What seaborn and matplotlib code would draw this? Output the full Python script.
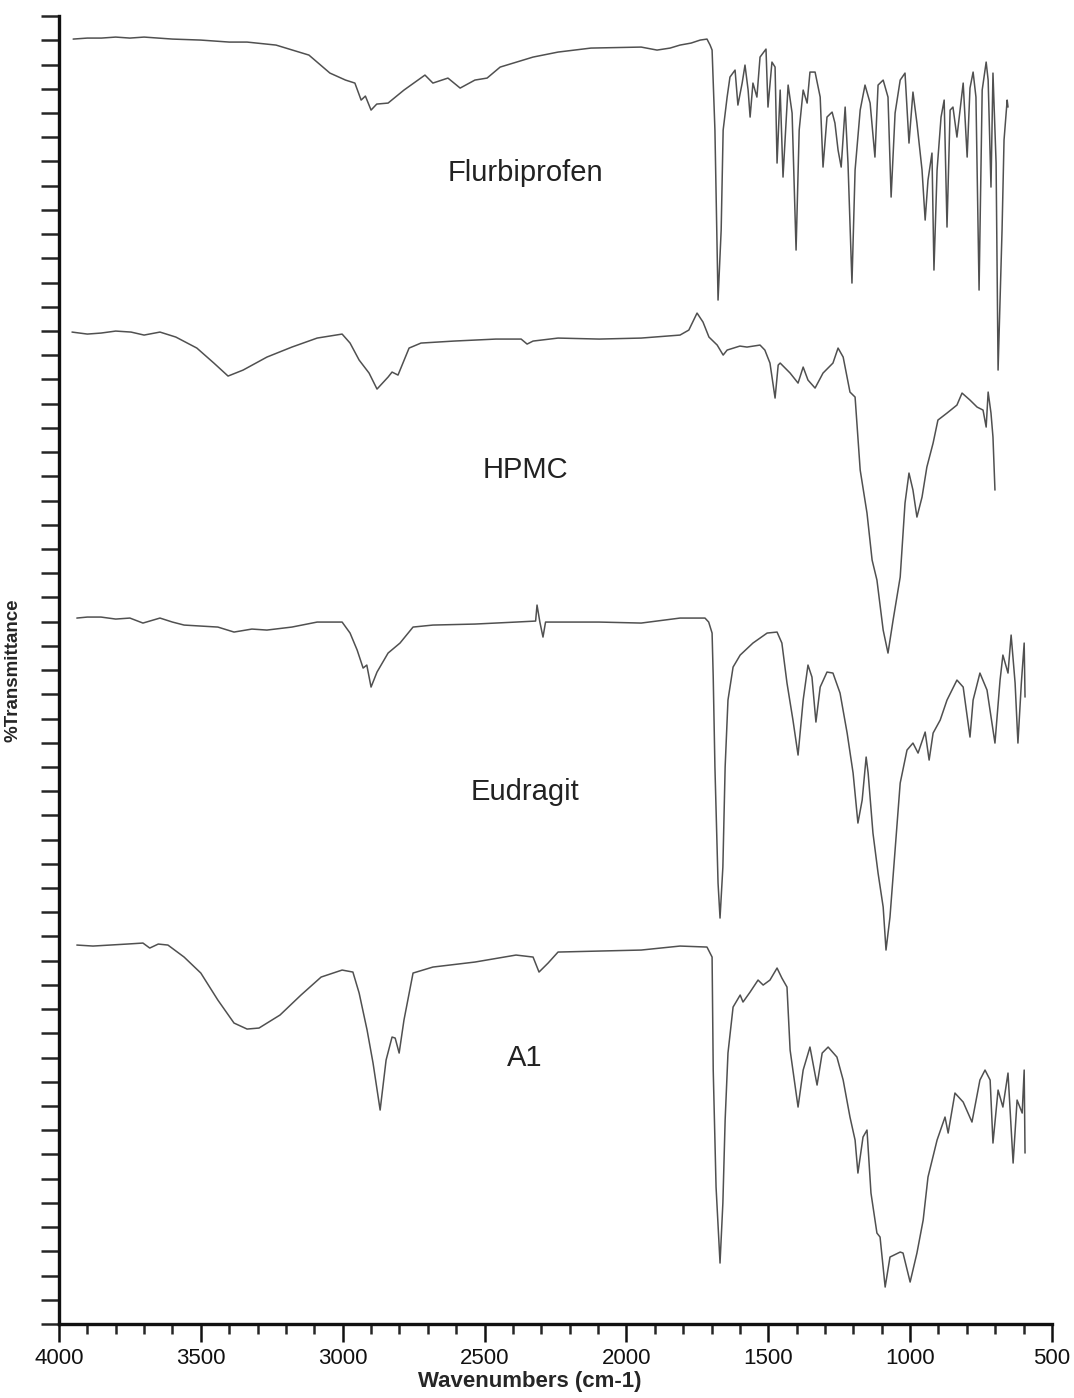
import numpy as np
import pandas as pd
import matplotlib
matplotlib.use("Agg")
import matplotlib.pyplot as plt
from matplotlib.ticker import MultipleLocator, NullFormatter
import seaborn as sns

# ------------------------------------------------------- #
#                 SPECTRA           #
#   wavenumber in cm-1, transmittance in offset units     #
# ------------------------------------------------------- #
flurbi_wn = [3950, 3900, 3850, 3800, 3750, 3700, 3650, 3600, 3500, 3400, 3337, 3235, 3119, 3045,
             2990, 2957, 2935, 2920, 2900, 2880, 2840, 2784, 2710, 2682, 2629, 2586, 2534, 2491,
             2445, 2329, 2241, 2125, 1948, 1892, 1846, 1811, 1772, 1740, 1716, 1705, 1698, 1688,
             1677, 1666, 1659, 1645, 1635, 1617, 1607, 1592, 1582, 1571, 1564, 1554, 1540, 1529,
             1508, 1501, 1487, 1476, 1469, 1458, 1448, 1430, 1416, 1402, 1391, 1377, 1363, 1353,
             1335, 1317, 1307, 1293, 1275, 1265, 1254, 1243, 1229, 1219, 1205, 1194, 1176, 1159,
             1141, 1124, 1113, 1095, 1078, 1067, 1053, 1035, 1018, 1004, 990, 976, 958, 947, 937,
             923, 916, 905, 891, 880, 870, 859, 849, 835, 824, 813, 799, 789, 778, 768, 757, 746,
             732, 725, 715, 708, 697, 690, 676, 669, 658, 655]
flurbi_t = [1285, 1286, 1286, 1287, 1286, 1287, 1286, 1285, 1284, 1282, 1282, 1279, 1269, 1251,
            1244, 1241, 1224, 1228, 1214, 1220, 1221, 1234, 1249, 1241, 1246, 1236, 1244, 1246,
            1257, 1267, 1272, 1276, 1277, 1274, 1276, 1279, 1281, 1284, 1285, 1279, 1274, 1194,
            1024, 1094, 1194, 1227, 1247, 1254, 1219, 1241, 1259, 1234, 1207, 1241, 1227, 1267,
            1275, 1217, 1262, 1257, 1161, 1234, 1147, 1239, 1211, 1074, 1194, 1234, 1221, 1252,
            1252, 1227, 1157, 1207, 1212, 1201, 1174, 1157, 1217, 1161, 1041, 1154, 1214, 1239,
            1221, 1167, 1239, 1244, 1227, 1127, 1211, 1244, 1251, 1181, 1232, 1201, 1154, 1104, 1144,
            1171, 1054, 1154, 1207, 1224, 1097, 1214, 1217, 1187, 1214, 1241, 1167, 1236, 1252, 1227, 1034, 1234,
            1262, 1244, 1137, 1251, 1161, 954, 1094, 1184, 1224, 1217]

hpmc_wn = [3954, 3900, 3852, 3800, 3746, 3700, 3644, 3588, 3514, 3454, 3404, 3351, 3267, 3179,
           3090, 3002, 2974, 2942, 2907, 2879, 2840, 2826, 2805, 2766, 2724, 2608, 2460, 2371,
           2350, 2329, 2241, 2096, 1948, 1811, 1780, 1751, 1730, 1709, 1680, 1659, 1645, 1600,
           1575, 1529, 1512, 1494, 1476, 1465, 1458, 1423, 1395, 1377, 1360, 1335, 1307, 1272,
           1254, 1236, 1212, 1194, 1176, 1152, 1134, 1117, 1095, 1078, 1060, 1035, 1018, 1004,
           990, 976, 958, 941, 919, 902, 870, 835, 817, 789, 764, 743, 732, 725, 715, 708, 701]
hpmc_t = [992, 990, 991, 993, 992, 989, 992, 987, 976, 961, 948, 954, 967, 977,
          986, 990, 981, 964, 951, 935, 947, 952, 949, 976, 981, 983, 985, 985,
          980, 983, 986, 985, 986, 989, 994, 1011, 1002, 987, 979, 969, 974, 978,
          977, 979, 974, 961, 926, 959, 961, 951, 941, 957, 944, 936, 951, 961,
          976, 967, 932, 927, 854, 811, 764, 744, 694, 671, 704, 747, 821, 851,
          834, 807, 827, 857, 881, 904, 911, 919, 931, 924, 917, 914, 897, 932, 911, 887, 834]

eud_wn = [3937, 3900, 3852, 3800, 3750, 3704, 3644, 3600, 3559, 3500, 3440, 3383, 3320, 3267,
          3179, 3090, 3002, 2974, 2949, 2928, 2915, 2900, 2879, 2840, 2798, 2752, 2682, 2534,
          2389, 2320, 2315, 2305, 2294, 2285, 2269, 2096, 1948, 1811, 1723, 1710, 1698, 1694,
          1688, 1677, 1670, 1660, 1652, 1642, 1624, 1599, 1554, 1504, 1469, 1452, 1434, 1413,
          1395, 1377, 1360, 1346, 1332, 1317, 1293, 1272, 1247, 1222, 1201, 1184, 1169, 1155,
          1148, 1131, 1113, 1095, 1085, 1071, 1053, 1035, 1011, 990, 972, 947, 933, 919, 894,
          870, 835, 813, 789, 778, 754, 729, 701, 683, 673, 655, 644, 630, 620, 608, 598, 595]
eud_t = [706, 707, 707, 705, 706, 701, 706, 702, 699, 698, 697, 692, 695, 694,
         697, 702, 702, 691, 674, 656, 659, 637, 652, 671, 681, 697, 699, 700,
         702, 703, 719, 702, 687, 702, 702, 702, 701, 706, 706, 702, 691, 647,
         557, 441, 406, 457, 557, 624, 657, 669, 681, 691, 692, 681, 641, 604,
         569, 624, 659, 647, 602, 637, 652, 651, 631, 591, 551, 501, 524, 567,
         551, 491, 451, 417, 374, 407, 474, 541, 574, 581, 571, 592, 564, 591, 604,
         624, 644, 637, 587, 624, 651, 634, 581, 644, 669, 651, 689, 641, 581, 641, 681, 627]

a1_wn = [3937, 3880, 3820, 3760, 3704, 3680, 3650, 3616, 3559, 3500, 3440, 3383, 3337, 3295,
         3221, 3147, 3076, 3002, 2964, 2942, 2914, 2893, 2868, 2847, 2826, 2815, 2801, 2784,
         2752, 2682, 2534, 2389, 2329, 2308, 2276, 2241, 2096, 1948, 1811, 1716, 1698, 1694,
         1684, 1670, 1660, 1652, 1642, 1624, 1599, 1589, 1564, 1536, 1518, 1494, 1469, 1452,
         1434, 1423, 1395, 1377, 1353, 1328, 1310, 1289, 1258, 1236, 1212, 1194, 1184, 1166,
         1152, 1138, 1117, 1106, 1088, 1071, 1035, 1025, 1000, 976, 954, 937, 905, 877, 866,
         842, 813, 782, 754, 736, 718, 708, 690, 673, 655, 637, 623, 605, 598, 595]
a1_t = [379, 378, 379, 380, 381, 376, 380, 379, 367, 351, 324, 301, 295, 296,
        309, 329, 347, 354, 352, 331, 294, 261, 214, 264, 287, 286, 271, 304,
        351, 357, 362, 369, 367, 352, 361, 372, 373, 374, 378, 377, 367, 254,
        137, 61, 121, 204, 271, 317, 329, 322, 332, 344, 339, 344, 356, 346,
        337, 274, 217, 254, 277, 239, 271, 277, 267, 244, 207, 184, 151, 187,
        194, 131, 91, 87, 37, 67, 72, 71, 42, 71, 104, 147, 184, 207, 191,
        231, 222, 202, 244, 254, 244, 181, 234, 217, 251, 161, 224, 211, 254, 171]

names = ["Flurbiprofen", "HPMC", "Eudragit", "A1"]
label_wn = [2357, 2357, 2357, 2357]
label_t = [1151, 854, 532, 266]

frames = []
for name, wn, t in zip(names, [flurbi_wn, hpmc_wn, eud_wn, a1_wn],
                       [flurbi_t, hpmc_t, eud_t, a1_t]):
    frames.append(pd.DataFrame({"wn": wn, "t": t, "sample": name}))
df = pd.concat(frames, ignore_index=True)

# ------------------------------------------------------- #
#                         FIGURE                          #
# ------------------------------------------------------- #
sns.set_style("ticks")
plt.rcParams["font.family"] = ["Liberation Sans", "DejaVu Sans"]

fig = plt.figure(figsize=(10.74, 13.98), dpi=100)
ax = fig.add_axes([0.0549, 0.0529, 0.9246, 0.9356])

for name in names:
    sub = df[df["sample"] == name]
    sns.lineplot(data=sub, x="wn", y="t", sort=False, estimator=None,
                 color="#505050", linewidth=1.1, ax=ax, legend=False)

for name, x, y in zip(names, label_wn, label_t):
    ax.text(x, y, name, ha="center", va="center", fontsize=21, color="#222222")

ax.set_xlim(4000, 500)
ax.set_ylim(0, 1308)
ax.xaxis.set_major_locator(MultipleLocator(500))
ax.xaxis.set_minor_locator(MultipleLocator(100))
ax.set_yticks(np.linspace(0, 1308, 55))
ax.yaxis.set_major_formatter(NullFormatter())

sns.despine(ax=ax)
for s in ["left", "bottom"]:
    ax.spines[s].set_linewidth(2.4)
    ax.spines[s].set_color("#111111")

ax.tick_params(axis="x", which="major", direction="out", length=13, width=1.8,
               labelsize=16, pad=4, colors="#111111")
ax.tick_params(axis="x", which="minor", direction="out", length=7, width=1.8)
ax.tick_params(axis="y", which="major", direction="out", length=13, width=1.8)

ax.set_xlabel("Wavenumbers (cm-1)", fontsize=16, fontweight="bold")
ax.set_ylabel("%Transmittance", fontsize=13.5, fontweight="bold")
ax.xaxis.set_label_coords(0.474, -0.036)
ax.yaxis.set_label_coords(-0.038, 0.5)

fig.savefig("out.png", dpi=100)
